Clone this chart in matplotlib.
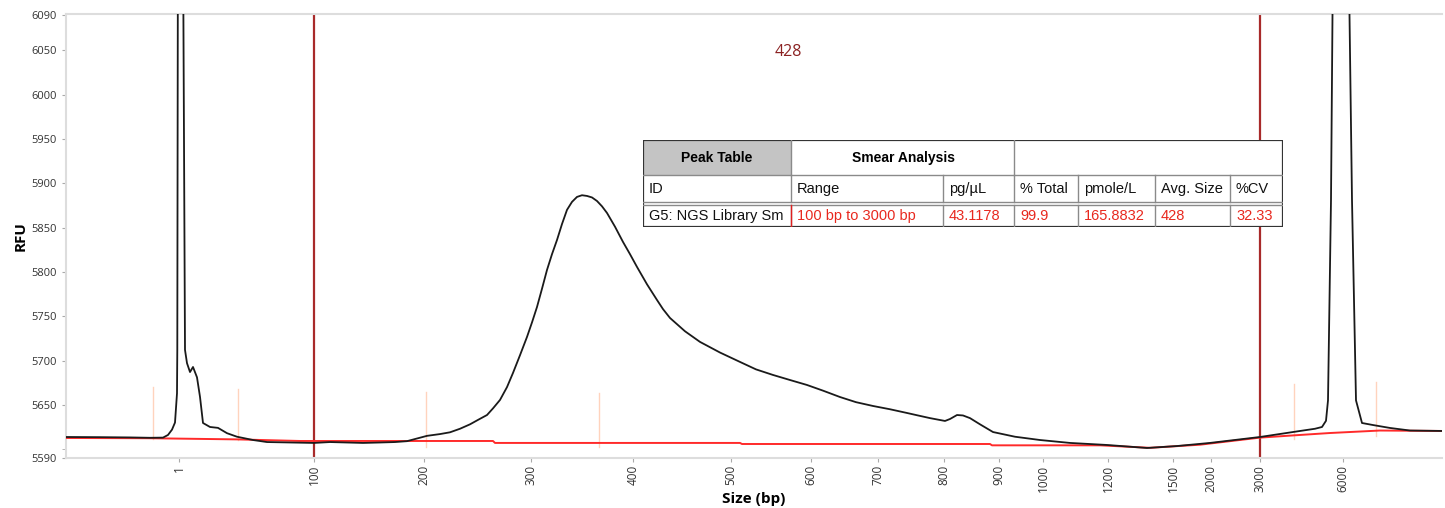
import matplotlib
matplotlib.use("Agg")
import matplotlib.pyplot as plt
from matplotlib.patches import Rectangle

# migration axis (arbitrary units), size ladder positions on it
size_labels = ["1", "100", "200", "300", "400", "500", "600", "700", "800", "900",
               "1000", "1200", "1500", "2000", "3000", "6000"]
size_pos = [179, 314, 424, 531, 633, 731, 811, 878, 944, 999,
            1043, 1108, 1173, 1211, 1260, 1343]

# electropherogram trace (RFU)
trace_x = [66, 100, 130, 150, 163, 168, 172, 175, 177, 177.3, 177.8, 180.6, 183.4, 185,
           187, 190, 193, 197, 200, 203, 210, 218, 227, 237, 253, 267, 314, 330, 363,
           380, 395, 407, 427, 440, 450, 460, 470, 478, 487, 493, 500, 507, 513, 520, 527,
           532, 537, 542, 547, 552, 557, 562, 567, 572, 577, 582, 587, 592, 597,
           602, 607, 615, 623, 630, 637, 647, 657, 663, 670, 685, 700, 720, 740, 756, 773,
           790, 807, 823, 840, 856, 873, 890, 907, 918, 930, 945, 950, 957,
           963, 970, 980, 993, 1015, 1040, 1070, 1107, 1147, 1177, 1210, 1260, 1300, 1315,
           1322, 1326, 1328, 1331, 1332.5, 1341, 1349.5, 1352, 1356, 1362, 1373, 1390, 1410, 1443]
trace_y = [5613.7, 5613.5, 5613.2, 5612.8, 5613.0, 5616, 5622, 5630, 5663, 5712, 6090, 6500, 6090, 5712,
           5697, 5687, 5692.7, 5681, 5659, 5629.5, 5625, 5624, 5618, 5614, 5610.3, 5608, 5607, 5608, 5607,
           5607.5, 5608, 5609, 5615, 5617, 5619, 5623, 5628, 5633, 5638.5, 5646, 5655.5, 5670, 5686, 5706, 5726.6,
           5743, 5760.4, 5781, 5802.2, 5820, 5836, 5854, 5870, 5879, 5884.6, 5886.5, 5885.7, 5884, 5880,
           5874, 5866.5, 5851, 5833.8, 5820, 5805.6, 5786, 5768.3, 5758, 5748, 5733, 5721, 5709, 5698.4, 5690, 5683.7,
           5678, 5672.4, 5666, 5658.8, 5653, 5648.7, 5645, 5640.8, 5638, 5635, 5631.8, 5634, 5638.5,
           5638, 5635, 5628, 5619.3, 5614, 5610.3, 5607, 5604.7, 5601.3, 5603.5, 5607, 5613.7, 5620.5, 5623,
           5625, 5632, 5655, 5881, 6090, 8000, 6090, 5881, 5655, 5629.5, 5627.2, 5623.9, 5621, 5620.5]

# smear baseline
base_x = [66, 150, 237, 300, 493, 495, 740, 742, 990, 992, 1100, 1150, 1200, 1260, 1300, 1330, 1380, 1443]
base_y = [5612.6, 5612.3, 5611, 5609.2, 5609.2, 5607, 5607, 5605.8, 5605.8, 5604.3, 5604.3, 5601.5,
          5605, 5613, 5616, 5618.2, 5621, 5620.5]

# smear region limits (100 bp and 3000 bp) and small peak markers
region_pos = [314, 1260]
marker_pos = [153, 238, 426, 599, 1294, 1376]
marker_top = [5670, 5668, 5665, 5663, 5673, 5676]
marker_bot = [5612, 5610, 5602, 5602, 5612, 5615]

avg_size = "428"

table_head = ["Peak Table", "Smear Analysis", ""]
table_cols = ["ID", "Range", "pg/µL", "% Total", "pmole/L", "Avg. Size", "%CV"]
table_row = ["G5: NGS Library Sm", "100 bp to 3000 bp", "43.1178", "99.9", "165.8832", "428", "32.33"]

W, H = 1445, 508
fig = plt.figure(figsize=(W / 100, H / 100), dpi=100)
ax = fig.add_axes([66 / W, (H - 458) / H, (1442 - 66) / W, (458 - 14) / H])

for p, t, b in zip(marker_pos, marker_top, marker_bot):
    ax.plot([p, p], [b, t], color="#ffd3bd", lw=1, zorder=1)
for p in region_pos:
    ax.axvline(p, color="#a82a2a", lw=1.6, zorder=2)
ax.plot(base_x, base_y, color="#ff2a2a", lw=1.4, zorder=3)
ax.plot(trace_x, trace_y, color="#1a1a1a", lw=1.3, zorder=4)

ax.set_xlim(66, 1442)
ax.set_ylim(5590, 6091)
ax.set_xticks(size_pos)
ax.set_xticklabels(size_labels, rotation=90, fontsize=8.5, color="#333333", family="Open Sans")
ax.set_yticks([5590, 5650, 5700, 5750, 5800, 5850, 5900, 5950, 6000, 6050, 6090])
ax.set_yticks([5600], minor=True)
ax.tick_params(axis="y", labelsize=8, labelcolor="#333333", length=3, color="#aaaaaa")
ax.tick_params(axis="y", which="minor", length=3, color="#aaaaaa")
ax.tick_params(axis="x", length=3, color="#aaaaaa", pad=2)
for lab in ax.get_yticklabels():
    lab.set_family("Open Sans")
for s in ["left", "bottom", "top"]:
    ax.spines[s].set_color("#dddddd")
    ax.spines[s].set_linewidth(1.5)
ax.spines["right"].set_visible(False)

ax.set_ylabel("RFU", fontsize=11, fontweight="bold", family="Open Sans", labelpad=3)
ax.set_xlabel("Size (bp)", fontsize=11, fontweight="bold", family="Open Sans", labelpad=0)
ax.text(788, 6048, avg_size, ha="center", va="center", fontsize=11.5, color="#8b2222", family="Open Sans")

# peak table drawn on top of the plot
tab = fig.add_axes([643 / W, (H - 227) / H, 640 / W, 87 / H])
tab.set_xlim(0, 640)
tab.set_ylim(87, 0)
tab.axis("off")
tab.add_patch(Rectangle((0, 0), 640, 87, facecolor="white", edgecolor="none"))
tab.add_patch(Rectangle((0, 0), 148, 35, facecolor="#c4c4c4", edgecolor="none"))
col_x = [0, 148, 300, 371, 435, 512, 587, 640]
gc = "#8a8a8a"
tab.plot([0, 640], [35, 35], color=gc, lw=1)
tab.plot([0, 640], [62, 62], color=gc, lw=1)
tab.plot([0, 640], [65, 65], color=gc, lw=1)
for cx in [148, 371]:
    tab.plot([cx, cx], [0, 35], color=gc, lw=1)
for cx in col_x[1:-1]:
    tab.plot([cx, cx], [35, 62], color=gc, lw=1)
    tab.plot([cx, cx], [65, 87], color=gc, lw=1)
tab.plot([148, 148], [65, 87], color="#e02020", lw=1)
tab.add_patch(Rectangle((0, 0), 640, 87, facecolor="none", edgecolor="#333333", lw=1.6))
tab.text(74, 18, table_head[0], ha="center", va="center", fontsize=10, fontweight="bold", family="Liberation Sans")
tab.text(260, 18, table_head[1], ha="center", va="center", fontsize=10, fontweight="bold", family="Liberation Sans")
for i, c in enumerate(table_cols):
    tab.text(col_x[i] + 6, 49, c, ha="left", va="center", fontsize=10.5, family="Liberation Sans", color="#111111")
for i, c in enumerate(table_row):
    tab.text(col_x[i] + 6, 76, c, ha="left", va="center", fontsize=10.5, family="Liberation Sans",
             color="#111111" if i == 0 else "#e8281e")

fig.savefig("out.png", dpi=100)
